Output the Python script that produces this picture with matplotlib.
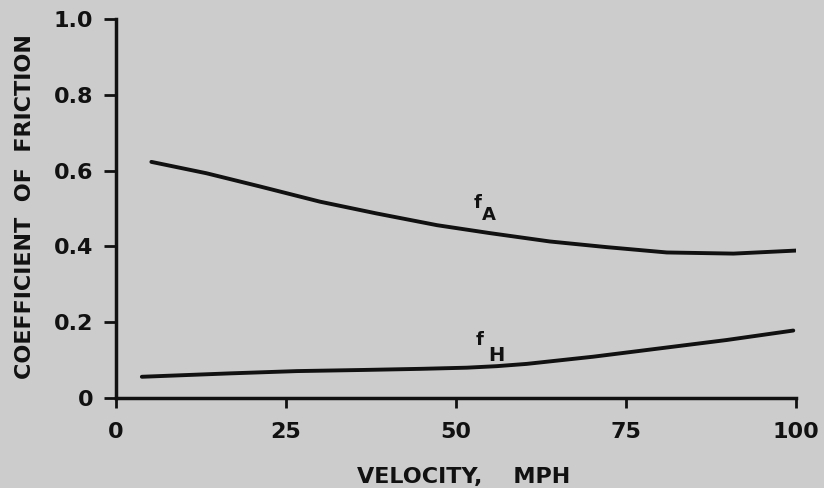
import matplotlib
matplotlib.use("Agg")
import matplotlib.pyplot as plt

# Data
fa_x = [5.2, 13.3, 21.2, 30.0, 38.3, 47.2, 55.0, 63.8, 72.2, 81.0, 90.8, 100.0]
fa_y = [0.623, 0.593, 0.558, 0.518, 0.487, 0.456, 0.435, 0.413, 0.398, 0.384, 0.381, 0.389]
fh_x = [3.8, 16.8, 26.6, 36.4, 45.0, 51.6, 56.0, 60.4, 70.2, 80.0, 89.8, 99.6]
fh_y = [0.056, 0.065, 0.071, 0.074, 0.077, 0.080, 0.084, 0.090, 0.109, 0.131, 0.153, 0.178]

x_ticks = [0, 25, 50, 75, 100]
x_ticklabels = ["0", "25", "50", "75", "100"]
y_ticks = [0, 0.2, 0.4, 0.6, 0.8, 1.0]
y_ticklabels = ["0", "0.2", "0.4", "0.6", "0.8", "1.0"]

BG = "#cccccc"
INK = "#111111"

plt.rcParams['font.family'] = ['DejaVu Sans']
plt.rcParams['font.weight'] = 'bold'

fig = plt.figure(figsize=(8.24, 4.88), dpi=100, facecolor=BG)
ax = fig.add_axes([116/824, 90/488, 680/824, 379/488])
ax.set_facecolor(BG)

ax.plot(fa_x, fa_y, color=INK, lw=2.8, solid_capstyle='round', solid_joinstyle='round')
ax.plot(fh_x, fh_y, color=INK, lw=2.8, solid_capstyle='round', solid_joinstyle='round')

ax.set_xlim(0, 100)
ax.set_ylim(0, 1.0)
for s in ['top', 'right']:
    ax.spines[s].set_visible(False)
for s in ['left', 'bottom']:
    ax.spines[s].set_linewidth(2.5)
    ax.spines[s].set_color(INK)
    ax.spines[s].set_capstyle('projecting')

ax.set_xticks(x_ticks)
ax.set_xticklabels(x_ticklabels)
ax.set_yticks(y_ticks)
ax.set_yticklabels(y_ticklabels)
ax.tick_params(axis='x', direction='out', length=7.5, width=2, pad=10,
               labelsize=16, colors=INK)
ax.tick_params(axis='y', direction='out', length=8.5, width=2, pad=8,
               labelsize=16, colors=INK)
for lab in ax.get_xticklabels() + ax.get_yticklabels():
    lab.set_fontweight('bold')

# Curve labels
ax.text(53.2, 0.514, "f", fontsize=13, fontweight='bold', color=INK,
        ha='center', va='center')
ax.text(54.9, 0.483, "A", fontsize=13, fontweight='bold', color=INK,
        ha='center', va='center')
ax.text(53.5, 0.153, "f", fontsize=13, fontweight='bold', color=INK,
        ha='center', va='center')
ax.text(56.0, 0.113, "H", fontsize=14, fontweight='bold', color=INK,
        ha='center', va='center')

# Axis titles
fig.text(25/824, 1 - 207/488, "COEFFICIENT  OF  FRICTION", rotation=90,
         fontsize=16, fontweight='bold', color=INK, ha='center', va='center')
fig.text(464/824, 1 - 477/488, "VELOCITY,    MPH", fontsize=16,
         fontweight='bold', color=INK, ha='center', va='center')

fig.savefig("out.png", dpi=100, facecolor=BG)
